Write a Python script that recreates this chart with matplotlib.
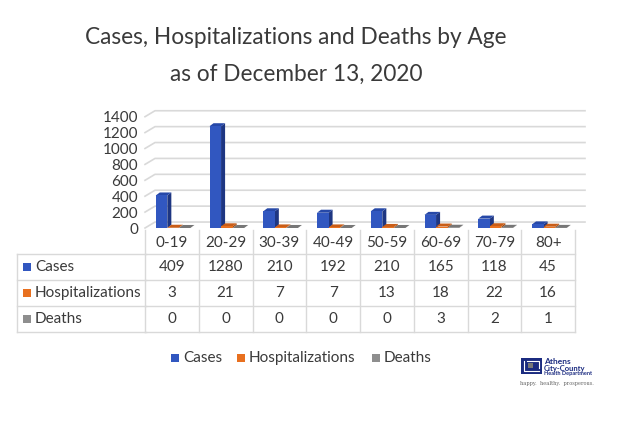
import matplotlib.pyplot as plt
from matplotlib.patches import Rectangle, Polygon
from matplotlib.transforms import blended_transform_factory

plt.rcParams['font.family'] = ['Lato', 'DejaVu Sans']

# data
ages = ['0-19', '20-29', '30-39', '40-49', '50-59', '60-69', '70-79', '80+']
cases = [409, 1280, 210, 192, 210, 165, 118, 45]
hosp = [3, 21, 7, 7, 13, 18, 22, 16]
deaths = [0, 0, 0, 0, 0, 3, 2, 1]
series_names = ['Cases', 'Hospitalizations', 'Deaths']
series_vals = [cases, hosp, deaths]
front_cols = ['#3157c0', '#e8701f', '#8e8e8e']
side_cols = ['#1e3682', '#a84c10', '#5e5e5e']
top_cols = ['#2648a8', '#c95d17', '#777777']
yticks = [0, 200, 400, 600, 800, 1000, 1200, 1400]

txt = '#3a3a3a'
grid = '#d9d9d9'

fig = plt.figure(figsize=(6.41, 4.33), dpi=100)

# overlay in pixel coordinates for title, table, legend, logo
ov = fig.add_axes([0, 0, 1, 1])
ov.set_xlim(0, 641)
ov.set_ylim(433, 0)
ov.axis('off')

ov.text(296, 38, 'Cases, Hospitalizations and Deaths by Age', ha='center', va='center',
        fontsize=16.3, color=txt)
ov.text(296, 74, 'as of December 13, 2020', ha='center', va='center',
        fontsize=16.3, color=txt)

# chart axes: 0..8 categories, 0..1400 values
ax = fig.add_axes([145 / 641, (433 - 228) / 433, 430 / 641, 111.3 / 433])
ax.set_xlim(0, 8)
ax.set_ylim(0, 1400)
for s in ax.spines.values():
    s.set_visible(False)
ax.set_xticks([])
ax.set_yticks(yticks)
ax.set_yticklabels([str(v) for v in yticks], fontsize=11, color=txt)
ax.tick_params(axis='y', length=0, pad=5)
ax.patch.set_alpha(0)

# depth of the floor / back wall and of the bars (data units)
fdx, fdy = 0.186, 75
bdx, bdy = 0.075, 38

for v in yticks:
    ax.plot([0, fdx, 8 + fdx], [v, v + fdy, v + fdy], color=grid, lw=1.2,
            clip_on=False, zorder=1)

w = 0.215
for j, vals in enumerate(series_vals):
    for i, v in enumerate(vals):
        x0 = i + 0.2 + j * w
        ax.add_patch(Polygon([(x0 + w, 0), (x0 + w + bdx, bdy), (x0 + w + bdx, v + bdy), (x0 + w, v)],
                             closed=True, facecolor=side_cols[j], edgecolor='none',
                             clip_on=False, zorder=2 + j))
        ax.add_patch(Polygon([(x0, v), (x0 + bdx, v + bdy), (x0 + w + bdx, v + bdy), (x0 + w, v)],
                             closed=True, facecolor=top_cols[j], edgecolor='none',
                             clip_on=False, zorder=2 + j))
        ax.add_patch(Rectangle((x0, 0), w, v, facecolor=front_cols[j], edgecolor='none',
                               clip_on=False, zorder=2 + j))

# data table below the chart (columns follow the category axis)
tr = blended_transform_factory(ax.transData, ov.transData)
left = 16.7
row_lines = [254.3, 280.3, 306.3, 332.3]
for y in row_lines:
    ov.plot([left, 145.5], [y, y], color=grid, lw=1)
    ov.plot([0, 8], [y, y], color=grid, lw=1, transform=tr)
ov.plot([left, left], [row_lines[0], row_lines[-1]], color=grid, lw=1)
for k in range(len(ages) + 1):
    ov.plot([k, k], [230, row_lines[-1]], color=grid, lw=1, transform=tr)

for i, a in enumerate(ages):
    ov.text(i + 0.5, 243, a, ha='center', va='center', fontsize=11, color=txt, transform=tr)

row_centers = [267.3, 293.3, 319.3]
for r, (name, vals) in enumerate(zip(series_names, series_vals)):
    yc = row_centers[r]
    ov.add_patch(Rectangle((23, yc - 4), 8, 8, facecolor=front_cols[r], edgecolor='none'))
    ov.text(35, yc, name, ha='left', va='center', fontsize=11, color=txt)
    for i, v in enumerate(vals):
        ov.text(i + 0.5, yc, str(v), ha='center', va='center', fontsize=11,
                color=txt, transform=tr)

# legend
leg_x = [171, 237, 372]
for name, c, lx in zip(series_names, front_cols, leg_x):
    ov.add_patch(Rectangle((lx, 354), 8, 8, facecolor=c, edgecolor='none'))
    ov.text(lx + 12, 358, name, ha='left', va='center', fontsize=11, color=txt)

# logo
navy = '#1b2b80'
ov.add_patch(Rectangle((521, 358), 21, 16, facecolor=navy, edgecolor='none'))
ov.plot([524, 524, 539], [361, 371, 371], color='white', lw=0.8)
ov.plot([527, 539, 539], [361, 361, 368], color='white', lw=0.8)
ov.add_patch(Rectangle((528, 363), 5, 5, facecolor='#777777', edgecolor='none'))
ov.text(544, 362, 'Athens', fontsize=6, color=navy, fontweight='bold', va='center')
ov.text(544, 368, 'City-County', fontsize=5.5, color=navy, fontweight='bold', va='center')
ov.text(544, 373.5, 'Health Department', fontsize=4, color=navy, fontweight='bold', va='center')
ov.text(520, 383, 'happy.  healthy.  prosperous.', fontsize=3.6, color='#666666',
        family='DejaVu Serif', va='center')

fig.savefig('out.png', dpi=100)
